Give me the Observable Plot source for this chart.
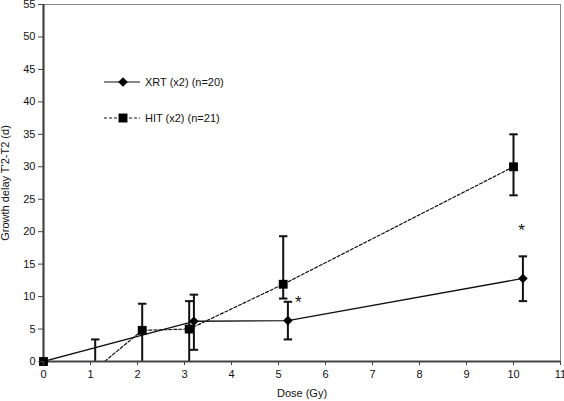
<!DOCTYPE html>
<html>
<head>
<meta charset="utf-8">
<script src="https://cdn.jsdelivr.net/npm/d3@7"></script>
<script src="https://cdn.jsdelivr.net/npm/@observablehq/plot@0.6"></script>
<style>
  html, body { margin: 0; padding: 0; background: #fff; }
  #wrap { position: relative; width: 564px; height: 401px; }
  #legend { position: absolute; left: 104px; top: 72px; font: 11px "Liberation Sans", Arial, sans-serif; color: #111; }
  .item { display: flex; align-items: center; height: 20px; }
  .item + .item { margin-top: 16px; }
  .item svg { margin-right: 5px; }
</style>
</head>
<body>
<div id="wrap">
  <div id="chart"></div>
  <div id="legend"></div>
</div>
<script>
// Data
const xrtDose = [0, 3.2, 5.2, 10.2];
const xrtDelay = [0, 6.2, 6.3, 12.8];
const xrtLow = [0, 1.8, 3.4, 9.3];
const xrtHigh = [0, 10.3, 9.2, 16.2];

const hitDose = [0, 1.1, 2.1, 3.1, 5.1, 10];
const hitDelay = [0, -1.2, 4.8, 5.0, 11.9, 30.0];
const hitLow = [0, -5.7, -0.5, -0.5, 9.7, 25.6];
const hitHigh = [0, 3.4, 8.9, 9.3, 19.3, 35.0];

const starDose = [5.42, 10.17];
const starDelay = [9.5, 20.6];

const xTicks = d3.range(0, 12, 1);
const yTicks = d3.range(0, 60, 5);

const seriesNames = ["XRT (x2) (n=20)", "HIT (x2) (n=21)"];

const xrt = xrtDose.map((x, i) => ({x, y: xrtDelay[i], lo: xrtLow[i], hi: xrtHigh[i]}));
const hit = hitDose.map((x, i) => ({x, y: hitDelay[i], lo: hitLow[i], hi: hitHigh[i]}));
const stars = starDose.map((x, i) => ({x, y: starDelay[i]}));
const capHalf = 0.09;
const bars = [...xrt, ...hit].filter(d => d.hi > d.lo);

const chart = Plot.plot({
  width: 564,
  height: 401,
  marginLeft: 43,
  marginRight: 4,
  marginTop: 4,
  marginBottom: 40,
  style: {fontFamily: "'Liberation Sans', Arial, sans-serif", fontSize: "11px", color: "#111", background: "#fff"},
  x: {domain: [0, 11]},
  y: {domain: [0, 55]},
  marks: [
    Plot.ruleY([55], {stroke: "#888", strokeWidth: 1}),
    Plot.ruleX([11], {stroke: "#888", strokeWidth: 1}),
    Plot.lineY(hit, {x: "x", y: "y", stroke: "#111", strokeWidth: 1.2, strokeDasharray: "3,2", clip: true}),
    Plot.lineY(xrt, {x: "x", y: "y", stroke: "#111", strokeWidth: 1.3, clip: true}),
    Plot.ruleX(bars, {x: "x", y1: "lo", y2: "hi", stroke: "#111", strokeWidth: 2, clip: true}),
    Plot.link(bars, {x1: d => d.x - capHalf, x2: d => d.x + capHalf, y1: "hi", y2: "hi", stroke: "#111", strokeWidth: 2, clip: true}),
    Plot.link(bars.filter(d => d.lo > 0), {x1: d => d.x - capHalf, x2: d => d.x + capHalf, y1: "lo", y2: "lo", stroke: "#111", strokeWidth: 2, clip: true}),
    Plot.ruleX([0], {stroke: "#444", strokeWidth: 2.2}),
    Plot.ruleY([0], {stroke: "#444", strokeWidth: 2.2}),
    Plot.dot(hit.filter(d => d.y >= 0), {x: "x", y: "y", symbol: "square", r: 5, fill: "#000"}),
    Plot.dot(xrt.filter(d => d.y >= 0), {x: "x", y: "y", symbol: "diamond2", r: 4.3, fill: "#000"}),
    Plot.text(stars, {x: "x", y: "y", text: () => "*", fontSize: 17, fill: "#111", dy: 3}),
    Plot.axisY({ticks: yTicks, tickSize: 5, tickPadding: 3, stroke: "#444", fill: "#111", label: "Growth delay T'2-T2 (d)", labelAnchor: "center", labelArrow: "none", labelOffset: 42}),
    Plot.axisX({ticks: xTicks, tickFormat: d3.format("d"), tickSize: 4, tickPadding: 5, stroke: "#444", fill: "#111", label: "Dose (Gy)", labelAnchor: "center", labelArrow: "none", labelOffset: 35})
  ]
});
document.getElementById("chart").appendChild(chart);

// Legend
const legend = d3.select("#legend");
const legendSpec = [
  {name: seriesNames[0], dash: null, symbol: d3.symbolDiamond2, size: 60},
  {name: seriesNames[1], dash: "3,2", symbol: d3.symbolSquare, size: 80}
];
for (const s of legendSpec) {
  const item = legend.append("div").attr("class", "item");
  const svg = item.append("svg").attr("width", 36).attr("height", 20);
  svg.append("line").attr("x1", 0).attr("x2", 36).attr("y1", 10).attr("y2", 10)
    .attr("stroke", "#111").attr("stroke-width", 1.2).attr("stroke-dasharray", s.dash);
  svg.append("path").attr("d", d3.symbol(s.symbol, s.size)()).attr("transform", "translate(19,10)").attr("fill", "#000");
  item.append("span").text(s.name);
}
</script>
</body>
</html>
